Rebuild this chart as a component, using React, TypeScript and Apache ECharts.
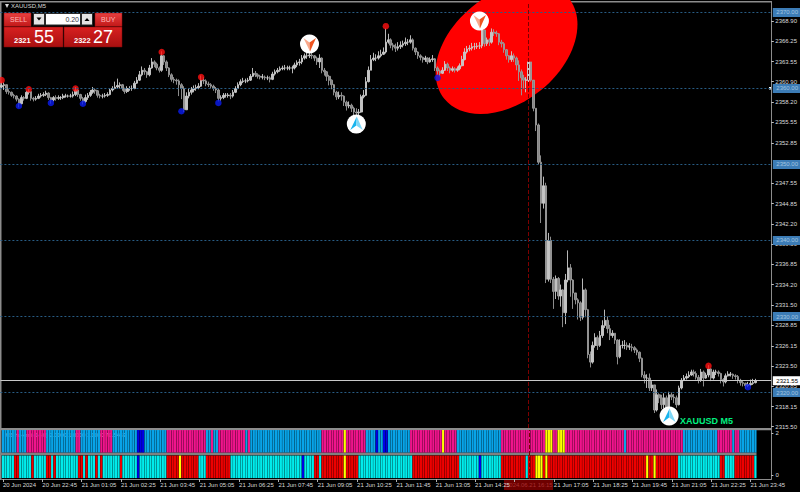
import React, { useEffect, useRef } from "react";
import * as echarts from "echarts";

const closes = [
  2360.4,2360.5,2359.6,2359.5,2359.1,2359.0,2358.6,2358.0,2358.8,2358.7,2359.5,2359.6,2358.7,2358.6,2358.7,2359.0,
  2359.1,2359.2,2359.4,2358.8,2358.5,2358.8,2358.7,2358.8,2358.8,2359.0,2359.0,2359.0,2359.0,2359.2,2359.8,2359.2,
  2358.7,2358.3,2358.8,2359.1,2359.5,2359.8,2359.7,2359.1,2359.0,2359.0,2359.1,2359.2,2359.8,2360.0,2360.2,2360.4,
  2360.5,2360.0,2359.6,2360.0,2360.0,2360.0,2360.7,2361.1,2361.8,2362.4,2362.2,2361.8,2362.7,2363.5,2363.2,2362.7,
  2362.4,2364.3,2363.5,2362.7,2361.8,2361.2,2361.1,2361.0,2360.5,2360.0,2357.2,2359.0,2359.5,2359.8,2360.0,2360.1,
  2360.3,2361.1,2361.0,2360.6,2360.5,2360.3,2360.0,2359.8,2358.7,2358.8,2359.1,2359.1,2359.1,2359.0,2359.5,2360.0,
  2360.5,2360.9,2361.0,2361.0,2361.1,2361.6,2362.0,2361.8,2361.6,2361.5,2361.5,2361.4,2361.4,2361.2,2361.9,2362.2,
  2362.4,2362.6,2362.7,2362.7,2362.7,2362.7,2362.7,2363.1,2363.4,2363.5,2364.0,2364.3,2364.3,2364.4,2364.3,2364.0,
  2363.5,2364.0,2362.4,2362.2,2361.6,2361.1,2360.5,2359.5,2358.9,2359.1,2359.0,2358.2,2357.7,2357.8,2357.4,2356.9,
  2356.8,2356.9,2358.9,2359.1,2360.9,2362.4,2363.8,2364.0,2364.0,2364.3,2364.5,2364.8,2366.1,2366.4,2365.7,2365.5,
  2365.3,2365.5,2365.7,2365.9,2366.1,2366.1,2366.4,2365.3,2364.8,2364.3,2364.1,2363.8,2364.0,2363.5,2363.8,2363.9,
  2362.7,2362.3,2362.0,2362.4,2363.2,2362.7,2362.4,2362.6,2362.4,2362.6,2363.0,2363.8,2364.8,2365.2,2365.3,2365.5,
  2365.5,2365.6,2365.6,2367.7,2365.9,2366.4,2366.1,2367.4,2367.3,2367.2,2366.1,2365.9,2365.1,2364.3,2363.8,2364.3,
  2364.0,2363.1,2362.2,2361.4,2361.1,2361.1,2363.5,2361.1,2357.4,2355.2,2350.3,2344.9,2347.2,2334.9,2340.0,2334.9,
  2333.3,2335.0,2332.7,2333.5,2330.5,2334.8,2336.4,2334.8,2333.1,2332.2,2331.8,2329.9,2333.5,2330.9,2325.0,2324.0,
  2326.2,2327.2,2326.2,2327.5,2328.8,2329.5,2328.4,2327.5,2327.8,2326.9,2324.7,2326.2,2326.2,2326.2,2326.0,2326.0,
  2325.9,2325.6,2325.3,2324.5,2322.3,2321.9,2321.9,2320.6,2321.0,2317.7,2319.7,2319.3,2318.4,2319.3,2317.7,2319.7,
  2319.4,2319.3,2318.4,2320.6,2321.6,2321.9,2322.1,2322.3,2322.7,2322.5,2322.0,2321.6,2322.7,2321.9,2322.3,2323.1,
  2321.9,2322.7,2322.7,2322.5,2321.7,2321.4,2322.2,2322.4,2322.4,2322.2,2322.1,2321.6,2321.3,2321.2,2320.9,2321.0,
  2321.2,2321.3,2321.55,
];
const highs = [
  2360.9,2360.8,2360.5,2359.9,2359.6,2359.3,2359.1,2358.7,2359.1,2359.0,2359.7,2359.9,2359.6,2358.9,2359.0,2359.3,
  2359.4,2359.5,2359.7,2359.5,2358.9,2359.0,2359.1,2359.1,2359.0,2359.3,2359.3,2359.2,2359.3,2359.6,2360.2,2360.0,
  2359.3,2358.9,2359.2,2359.4,2359.8,2360.2,2360.0,2359.8,2359.3,2359.3,2359.4,2359.5,2360.0,2360.3,2360.9,2361.3,
  2360.8,2360.6,2360.1,2360.3,2360.3,2360.4,2361.0,2361.5,2362.3,2362.9,2362.7,2362.3,2363.1,2364.0,2363.7,2363.4,
  2362.9,2364.9,2364.4,2363.7,2362.8,2362.0,2361.5,2361.3,2361.2,2360.7,2360.3,2359.5,2360.0,2360.2,2360.4,2360.5,
  2360.7,2361.7,2361.5,2361.2,2360.9,2360.7,2360.5,2360.2,2360.0,2359.1,2359.4,2359.4,2359.4,2359.4,2359.8,2360.3,
  2360.8,2361.2,2361.4,2361.3,2361.4,2361.9,2362.7,2362.3,2362.0,2361.8,2361.9,2361.7,2361.7,2361.6,2362.2,2362.5,
  2362.7,2362.9,2363.0,2363.1,2363.0,2363.0,2363.0,2363.4,2363.7,2363.9,2364.4,2364.6,2364.7,2364.8,2364.7,2364.4,
  2364.2,2364.5,2364.1,2362.7,2362.3,2361.8,2361.2,2360.6,2359.7,2359.6,2359.5,2359.1,2358.4,2358.3,2358.0,2357.6,
  2357.4,2357.3,2359.2,2359.8,2361.5,2362.9,2364.4,2364.7,2364.5,2364.9,2365.1,2365.4,2367.9,2367.2,2366.6,2366.0,
  2365.9,2366.1,2366.2,2366.3,2366.7,2366.5,2367.0,2366.6,2365.4,2364.9,2364.5,2364.2,2364.3,2364.1,2364.1,2364.4,
  2364.0,2362.9,2362.5,2362.8,2363.6,2363.4,2362.9,2362.9,2362.8,2362.9,2363.3,2364.3,2365.3,2365.6,2365.7,2366.0,
  2366.0,2366.0,2366.1,2368.3,2367.7,2366.7,2366.6,2367.9,2367.8,2367.6,2367.3,2366.4,2366.1,2365.2,2364.4,2364.9,
  2364.6,2364.2,2363.7,2362.5,2361.8,2361.5,2363.7,2363.5,2361.0,2357.4,2355.4,2351.2,2348.4,2347.6,2341.0,2340.5,
  2335.2,2335.4,2335.2,2334.2,2333.6,2335.6,2338.7,2336.9,2334.9,2333.0,2332.4,2332.0,2335.0,2333.7,2331.0,2325.4,
  2326.7,2327.8,2327.5,2328.1,2329.5,2330.9,2330.0,2328.9,2328.2,2327.8,2327.0,2327.0,2326.8,2326.9,2326.6,2326.5,
  2326.4,2326.1,2325.8,2325.4,2324.6,2322.8,2322.4,2322.5,2321.5,2321.0,2320.4,2319.9,2319.7,2319.9,2319.6,2320.1,
  2320.0,2319.8,2319.6,2320.9,2321.9,2322.3,2322.5,2322.8,2323.0,2323.0,2322.8,2322.3,2323.1,2322.9,2322.6,2323.6,
  2323.2,2323.0,2323.0,2322.9,2322.6,2321.9,2322.5,2322.8,2322.7,2322.5,2322.4,2322.3,2321.8,2321.6,2321.3,2321.4,
  2321.7,2321.8,2321.8,
];
const lows = [
  2360.0,2359.8,2359.3,2359.2,2358.9,2358.7,2358.3,2357.5,2357.9,2358.4,2358.6,2359.2,2358.4,2358.3,2358.4,2358.6,
  2358.8,2358.9,2359.0,2358.5,2358.0,2358.3,2358.4,2358.5,2358.5,2358.6,2358.8,2358.8,2358.8,2358.8,2359.0,2358.9,
  2358.4,2357.9,2358.1,2358.5,2358.9,2359.3,2359.3,2358.8,2358.7,2358.7,2358.8,2358.9,2359.1,2359.6,2359.9,2360.0,
  2360.0,2359.7,2359.3,2359.4,2359.7,2359.7,2359.9,2360.6,2361.0,2361.6,2361.8,2361.4,2361.6,2362.6,2362.8,2362.4,
  2362.1,2362.2,2363.1,2362.3,2361.5,2360.9,2360.7,2360.5,2359.0,2358.6,2356.9,2357.2,2358.7,2359.2,2359.5,2359.7,
  2359.9,2360.2,2360.6,2360.3,2360.2,2360.0,2359.7,2359.4,2358.3,2358.4,2358.6,2358.8,2358.8,2358.6,2358.8,2359.4,
  2359.9,2360.3,2360.7,2360.7,2360.8,2361.0,2361.5,2361.5,2361.3,2361.2,2361.2,2361.1,2361.1,2360.8,2361.1,2361.7,
  2362.0,2362.2,2362.4,2362.4,2362.4,2362.4,2362.0,2362.5,2362.8,2363.0,2363.2,2363.8,2363.9,2364.0,2363.9,2363.6,
  2363.1,2362.7,2362.0,2361.7,2361.0,2360.4,2359.9,2359.1,2358.5,2358.6,2358.4,2357.7,2357.1,2357.4,2356.9,2356.4,
  2356.2,2356.4,2356.8,2358.7,2359.0,2360.8,2362.4,2363.6,2363.6,2363.8,2364.1,2364.4,2364.6,2365.9,2365.3,2365.0,
  2364.8,2365.0,2365.2,2365.4,2365.6,2365.7,2365.9,2365.0,2364.4,2363.9,2363.7,2363.4,2363.5,2363.2,2363.4,2363.5,
  2362.3,2361.8,2361.5,2361.9,2362.3,2362.3,2362.0,2362.2,2362.1,2362.2,2362.4,2362.9,2363.7,2364.6,2364.9,2365.0,
  2365.1,2365.2,2365.2,2365.3,2365.5,2365.6,2365.6,2365.9,2366.9,2366.8,2365.7,2365.4,2364.7,2363.8,2363.4,2363.5,
  2363.5,2362.4,2361.0,2359.1,2360.0,2359.5,2360.6,2360.9,2357.0,2354.4,2350.0,2342.3,2344.2,2334.4,2334.6,2334.4,
  2331.0,2332.3,2332.2,2331.3,2328.6,2329.0,2334.5,2332.6,2331.0,2331.6,2329.6,2329.4,2329.6,2329.9,2324.5,2323.3,
  2323.8,2325.9,2325.6,2326.0,2327.2,2328.5,2327.8,2326.9,2327.2,2326.4,2323.7,2324.5,2325.8,2325.7,2325.6,2325.6,
  2325.4,2325.2,2324.9,2324.0,2322.0,2321.2,2320.6,2320.2,2320.2,2317.3,2317.5,2318.6,2317.8,2317.9,2317.1,2317.4,
  2319.0,2318.6,2318.0,2318.3,2320.4,2321.5,2321.7,2321.9,2322.2,2322.1,2321.7,2321.2,2321.4,2320.8,2321.8,2322.0,
  2321.5,2321.7,2322.3,2322.1,2321.2,2320.8,2321.2,2322.1,2322.1,2321.8,2321.7,2321.2,2320.9,2320.8,2320.5,2320.7,
  2320.9,2321.0,2321.2,
];
const firstOpen = 2360.2;

const timeLabels = [
  "20 Jun 2024","20 Jun 22:45","21 Jun 01:05","21 Jun 02:25","21 Jun 03:45","21 Jun 05:05",
  "21 Jun 06:25","21 Jun 07:45","21 Jun 09:05","21 Jun 10:25","21 Jun 11:45","21 Jun 13:05",
  "21 Jun 14:25","","21 Jun 17:05","21 Jun 18:25","21 Jun 19:45","21 Jun 21:05","21 Jun 22:25","21 Jun 23:45",
];
const priceTicks = [
  2368.9,2366.25,2363.55,2360.9,2358.2,2355.55,2352.85,2347.55,2344.85,2342.2,2339.5,
  2336.85,2334.2,2331.5,2328.85,2326.15,2323.5,2320.85,2318.15,2315.5,
];
const roundLevels = [2370, 2360, 2350, 2340, 2330, 2320];
const lastPrice = 2321.55;

// [bar, price]
const redDots = [[0,2361.1],[11,2359.9],[30,2360],[65,2364.8],[81,2361.5],[156,2368.2],[287,2323.5]];
const blueDots = [[7,2357.7],[20,2358.1],[33,2358],[73,2357],[88,2358.1],[177,2361.4],[303,2320.7]];
// [bar, price, kind]: 0 sell, 1 buy
const signalIcons = [[125,2365.86,0],[144,2355.33,1],[194,2368.88,0],[271,2316.9,1]];
const cursorBar = 214;
const highlightCentre = [205, 2365.26];

// indicator rows as runs of [state, bar count]
const topRuns: [string, number][] = [
  ["b",6],["p",1],["b",3],["p",8],["b",12],["p",2],["b",8],["p",5],["b",10],["B",3],["b",9],["p",16],
  ["b",2],["p",1],["b",2],["p",11],["b",1],["p",1],["b",8],
  ["b",21],["p",9],["y",1],["p",8],["b",4],["B",1],["b",2],["B",2],["b",9],["p",13],["y",1],["p",5],["b",18],["p",16],
  ["p",2],["y",3],["p",2],["y",3],["p",24],["b",1],["p",23],["b",14],["p",6],["b",1],["p",2],["b",7],
];
const bottomRuns: [string, number][] = [
  ["c",5],["r",2],["c",5],["r",1],["c",5],["r",2],["c",1],["r",1],["c",9],["r",2],["c",1],["r",1],["c",3],["r",1],["c",1],["r",1],
  ["c",7],["r",1],["c",6],["B",1],["c",11],["r",5],["y",1],["r",7],["c",3],["r",10],["c",16],
  ["c",13],["B",1],["c",4],["r",2],["c",1],["r",9],["y",1],["r",5],["c",22],["r",19],["c",8],["B",1],["c",8],["r",10],["c",1],["r",3],["y",2],
  ["y",1],["r",1],["y",1],["r",40],["y",1],["r",2],["y",1],["r",9],["c",17],["r",2],["c",4],["r",8],["c",1],
];
const stateColors: Record<string, string> = {
  b: "#08a4e8", p: "#f0148c", y: "#ffff00", B: "#0000e6", c: "#00ecec", r: "#ee0000",
};

const FONT = "Liberation Sans";
const TOTAL = 313;

const expand = (runs: [string, number][]) => {
  const out: string[] = [];
  runs.forEach(([s, n]) => { for (let k = 0; k < n; k++) out.push(s); });
  return out;
};

const redGrad = (a: string, b: string) => ({
  type: "linear", x: 0, y: 0, x2: 0, y2: 1,
  colorStops: [{ offset: 0, color: a }, { offset: 1, color: b }],
});

const txt = (text: string, x: number, y: number, fill: string, font: string, extra: any = {}) => ({
  type: "text", x, y, style: { text, fill, font, textVerticalAlign: "middle", verticalAlign: "middle", ...extra },
});
const box = (x: number, y: number, w: number, h: number, fill: any, extra: any = {}) => ({
  type: "rect", shape: { x, y, width: w, height: h }, style: { fill, ...extra },
});

export default function App() {
  const ref = useRef<HTMLDivElement>(null);
  useEffect(() => {
    document.body.style.margin = "0";
    document.body.style.background = "#000";
    const chart = echarts.init(ref.current!, undefined, { renderer: "svg" });
    const categories = Array.from({ length: TOTAL }, (_, i) => String(i));
    const candles = closes.map((c, i) => [i === 0 ? firstOpen : closes[i - 1], c, lows[i], highs[i]]);
    const topStates = expand(topRuns);
    const bottomStates = expand(bottomRuns);
    const rowItem = (states: string[]) => (params: any, api: any) => {
      const i = api.value(0);
      const x = api.coord([i, 0])[0];
      const top = api.coord([i, api.value(1)])[1];
      const bottom = api.coord([i, api.value(2)])[1];
      return {
        type: "rect",
        shape: { x: x - 1.1, y: top, width: 2.2, height: bottom - top },
        style: { fill: stateColors[states[i]] },
      };
    };
    const level = (v: number) => ({
      yAxis: v,
      lineStyle: { color: "#285c84", type: [2, 2], width: 1 },
      label: {
        show: true, position: "end", distance: 1.5, formatter: v.toFixed(2), fontFamily: FONT, fontSize: 6,
        color: "#a4c6e0", backgroundColor: "#3c7cb6", padding: [1.5, 2, 1.5, 3.5],
      },
    });
    chart.setOption({
      animation: false,
      backgroundColor: "#000000",
      tooltip: { show: false },
      grid: [
        { left: 0.4, width: 771, top: 2, height: 426 },
        { left: 0.4, width: 771, top: 430, height: 49 },
      ],
      xAxis: [
        { type: "category", gridIndex: 0, data: categories, boundaryGap: true, axisLine: { show: false }, axisTick: { show: false }, axisLabel: { show: false }, splitLine: { show: false } },
        {
          type: "category", gridIndex: 1, data: categories, boundaryGap: true,
          axisLine: { show: true, onZero: false, lineStyle: { color: "#8c8c8c", width: 1 } },
          axisTick: { show: true, alignWithLabel: true, length: 3, interval: (i: number) => i % 16 === 0, lineStyle: { color: "#b0b0b0" } },
          axisLabel: {
            show: true, interval: (i: number) => i % 16 === 0, align: "left", margin: 2.5,
            fontFamily: FONT, fontSize: 6, color: "#d8d8d8",
            formatter: (_: string, i: number) => timeLabels[i / 16] ?? "",
          },
          splitLine: { show: false },
        },
      ],
      yAxis: [
        {
          type: "value", gridIndex: 0, position: "right", min: 2315.33, max: 2371.38,
          splitLine: { show: false },
          axisLine: { show: true, lineStyle: { color: "#8c8c8c", width: 1 } },
          axisTick: { show: true, length: 2.5, customValues: priceTicks, lineStyle: { color: "#c0c0c0" } },
          axisLabel: {
            show: true, customValues: priceTicks, margin: 4, fontFamily: FONT, fontSize: 6, color: "#dcdcdc",
            formatter: (v: number) => v.toFixed(2),
          },
        },
        {
          type: "value", gridIndex: 1, position: "right", min: -0.19, max: 2.16,
          splitLine: { show: false },
          axisLine: { show: true, lineStyle: { color: "#8c8c8c", width: 1 } },
          axisTick: { show: true, length: 2, customValues: [0, 2], lineStyle: { color: "#c0c0c0" } },
          axisLabel: { show: true, customValues: [0, 2], margin: 4, fontFamily: FONT, fontSize: 6, color: "#dcdcdc", formatter: (v: number) => String(v) },
        },
      ],
      series: [
        {
          type: "custom", name: "highlight", xAxisIndex: 0, yAxisIndex: 0, z: 1, silent: true, clip: false,
          data: [highlightCentre],
          renderItem: (_: any, api: any) => {
            const c = api.coord([api.value(0), api.value(1)]);
            return {
              type: "ellipse", x: c[0], y: c[1], rotation: 0.68,
              shape: { cx: 0, cy: 0, rx: 80, ry: 54 }, style: { fill: "#ff0000" },
            };
          },
        },
        {
          type: "candlestick", name: "XAUUSD,M5", xAxisIndex: 0, yAxisIndex: 0, z: 2, silent: true,
          barWidth: 2.1, data: candles,
          itemStyle: { color: "#c4c4c4", color0: "#868686", borderColor: "#cccccc", borderColor0: "#9c9c9c", borderWidth: 0.9 },
          markLine: {
            silent: true, symbol: ["none", "none"], animation: false,
            data: [
              ...roundLevels.map(level),
              {
                yAxis: lastPrice,
                lineStyle: { color: "#c8c8c8", type: "solid", width: 1 },
                label: {
                  show: true, position: "end", distance: 1.5, formatter: lastPrice.toFixed(2), fontFamily: FONT, fontSize: 6,
                  color: "#000000", backgroundColor: "#ffffff", padding: [1.5, 2, 1.5, 3.5],
                },
              },
              { xAxis: cursorBar, lineStyle: { color: "#7c0000", type: [4, 2], width: 1 }, label: { show: false } },
            ],
          },
        },
        {
          type: "scatter", name: "peaks", xAxisIndex: 0, yAxisIndex: 0, z: 4, silent: true,
          data: redDots, symbolSize: 6.5, itemStyle: { color: "#ff1010" },
        },
        {
          type: "scatter", name: "troughs", xAxisIndex: 0, yAxisIndex: 0, z: 4, silent: true,
          data: blueDots, symbolSize: 6.5, itemStyle: { color: "#0a1cf0" },
        },
        {
          type: "custom", name: "signals", xAxisIndex: 0, yAxisIndex: 0, z: 5, silent: true, clip: false,
          data: signalIcons,
          renderItem: (_: any, api: any) => {
            const c = api.coord([api.value(0), api.value(1)]);
            const sell = api.value(2) === 0;
            const s = sell ? 1 : -1;
            const pts = (a: number[][]) => a.map(([x, y]) => [c[0] + x, c[1] + s * y]);
            return {
              type: "group",
              children: [
                { type: "circle", shape: { cx: c[0], cy: c[1], r: 9.5 }, style: { fill: "#ffffff" } },
                { type: "polygon", shape: { points: pts([[-6, -6], [0, -1.5], [0.5, 7.5]]) }, style: { fill: sell ? "#f9a98c" : "#18b4ee" } },
                { type: "polygon", shape: { points: pts([[6.5, -6], [0, -1.5], [0.5, 7.5]]) }, style: { fill: sell ? "#ee5420" : "#7ed6f6" } },
              ],
            };
          },
        },
        {
          type: "custom", name: "row top", xAxisIndex: 1, yAxisIndex: 1, z: 2, silent: true,
          data: topStates.map((_, i) => [i, 2.16, 1.08]),
          renderItem: rowItem(topStates),
          markLine: {
            silent: true, symbol: ["none", "none"], animation: false,
            data: [{ xAxis: cursorBar, lineStyle: { color: "#7c0000", type: [4, 2], width: 1 }, label: { show: false } }],
          },
        },
        {
          type: "custom", name: "row bottom", xAxisIndex: 1, yAxisIndex: 1, z: 2, silent: true,
          data: bottomStates.map((_, i) => [i, 0.935, -0.145]),
          renderItem: rowItem(bottomStates),
        },
      ],
      graphic: {
        z: 10,
        silent: true,
        elements: [
          box(0, 0, 800, 1, "#000000"),
          box(0, 1, 772, 1.5, "#8c8c8c"),
          box(0, 1, 1.5, 479, "#8c8c8c"),
          box(0, 428, 772, 2.2, "#8c8c8c"),
          box(0, 452.6, 756.5, 2.6, "#808080"),
          box(528, 1, 2, 3, "#ffffff"),
          box(769, 87, 2.5, 2.5, "#ffffff"),
          // header
          { type: "polygon", shape: { points: [[5, 4], [9, 4], [7, 8]] }, style: { fill: "#d8d8d8" } },
          txt("XAUUSD,M5", 11, 6.3, "#d8d8d8", `6px ${FONT}`),
          // SELL
          box(4, 13, 27, 13.5, redGrad("#e84040", "#c21818"), { stroke: "#8c0f0f", lineWidth: 0.5 }),
          txt("SELL", 10, 19, "#ffb8b8", `7px ${FONT}`),
          // lot
          box(33, 13, 60, 12.5, "#2a2a2a"),
          box(34, 14, 10, 10.5, "#e4e4e4"),
          { type: "polygon", shape: { points: [[36.5, 17.5], [41.5, 17.5], [39, 20.5]] }, style: { fill: "#000000" } },
          box(46, 14, 34, 10.5, "#ffffff"),
          txt("0.20", 79, 19, "#333344", `7px ${FONT}`, { align: "right", textAlign: "right" }),
          box(82, 14, 10, 10.5, "#e4e4e4"),
          { type: "polygon", shape: { points: [[84.5, 21], [89.5, 21], [87, 18]] }, style: { fill: "#000000" } },
          // BUY
          box(95, 13, 27, 13.5, redGrad("#e84040", "#c21818"), { stroke: "#8c0f0f", lineWidth: 0.5 }),
          txt("BUY", 101, 19, "#ffb8b8", `7px ${FONT}`),
          // quotes
          box(4, 27, 59, 20, redGrad("#d82020", "#a81010"), { stroke: "#7a0b0b", lineWidth: 0.5 }),
          box(64, 27, 58, 20, redGrad("#d82020", "#a81010"), { stroke: "#7a0b0b", lineWidth: 0.5 }),
          txt("2321", 14, 40, "#ffffff", `bold 7.5px ${FONT}`),
          txt("55", 34, 37, "#ffffff", `18px ${FONT}`),
          txt("2322", 74, 40, "#ffffff", `bold 7.5px ${FONT}`),
          txt("27", 93, 37, "#ffffff", `18px ${FONT}`),
          // indicator title
          txt("MS hu+mfi (14,0) 2.0000 1.0000 1.0000 70.5463", 5, 434.5, "#e8ecf4", `5.6px ${FONT}`),
          // symbol caption
          txt("XAUUSD M5", 680, 421, "#00f080", `bold 9px ${FONT}`),
          // cursor date box
          box(504, 480, 49, 10, "#6e0000"),
          txt("2024.06.21 16:15", 506, 485.3, "#a83030", `6px ${FONT}`),
        ],
      },
    });
    return () => chart.dispose();
  }, []);
  return (
    <div
      ref={ref}
      style={{ position: "absolute", left: 0, top: 0, width: 800, height: 492, background: "#000" }}
    />
  );
}
